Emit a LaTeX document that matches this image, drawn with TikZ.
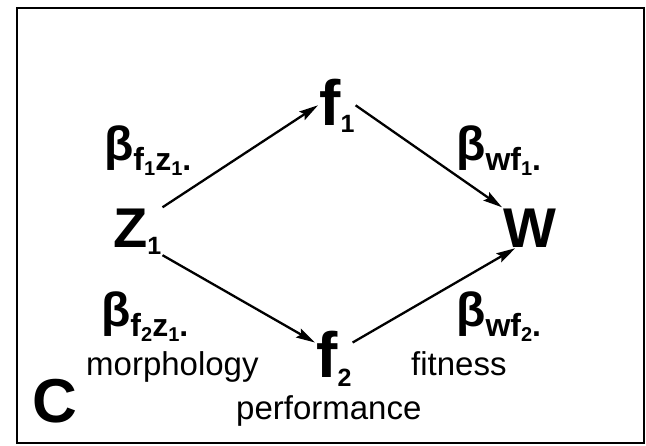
\documentclass[tikz,border=0pt]{standalone}
\usepackage{fontspec}
\setmainfont{Liberation Sans}
\usepackage{tikz}
\usetikzlibrary{positioning, arrows.meta}
\newcommand{\idx}[1]{\raisebox{-7pt}{\fontsize{25}{25}\selectfont #1}}
\newcommand{\bsub}[1]{\raisebox{-10pt}{\fontsize{32}{32}\selectfont #1}}
\newcommand{\bsubsub}[1]{\raisebox{-5pt}{\fontsize{20}{20}\selectfont #1}}

\begin{document}
\begin{tikzpicture}[
    x=1pt, y=-1pt,
    every node/.style={inner sep=1pt, anchor=base west},
    var/.style={
        font=\fontsize{56}{60}\selectfont\bfseries,
    },
    perf/.style={
        font=\fontsize{64}{66}\selectfont\bfseries,
    },
    coef/.style={
        font=\fontsize{48}{50}\selectfont\bfseries,
    },
    note/.style={
        font=\fontsize{33}{35}\selectfont,
    },
    rel/.style={
        -{Stealth[length=19pt, width=10pt, inset=3pt]},
        line width=2.3pt,
    },
]
\useasboundingbox (0,0) rectangle (646,445);

% ===== Marco =====
\draw[line width=1.4pt] (17,8) rectangle (644,443);

% ===== Variables =====
\node[var] (z1) at (112,247) {Z\idx{1}};
\node[perf] (f1) at (318,125) {f\idx{1}};
\node[perf] (f2) at (315,377) {f\raisebox{-2pt}{\idx{2}}};
\node[var] (w) at (502,247) {W};

% ===== Coeficientes =====
\node[coef] (bf1z1) at (103,160) {β\bsub{f\bsubsub{1}z\bsubsub{1}.}};
\node[coef] (bwf1) at (455,160) {β\bsub{wf\bsubsub{1}.}};
\node[coef] (bf2z1) at (100,326) {β\bsub{f\bsubsub{2}z\bsubsub{1}.}};
\node[coef] (bwf2) at (455,326) {β\bsub{wf\bsubsub{2}.}};

% ===== Etiquetas =====
\node[note] (morph) at (85,375) {morphology};
\node[note] (fit) at (410,375) {fitness};
\node[note] (perfl) at (235,419) {performance};
\node[perf, font=\fontsize{62}{64}\selectfont\bfseries] (panel) at (31,422) {C};

% ===== Relaciones =====
\draw[rel] (z1.north east) -- (f1.west);
\draw[rel] (z1.south east) -- (f2.140);
\draw[rel] (f1.east) -- (w.north west);
\draw[rel] (f2.40) -- (w.-125);

\end{tikzpicture}
\end{document}
